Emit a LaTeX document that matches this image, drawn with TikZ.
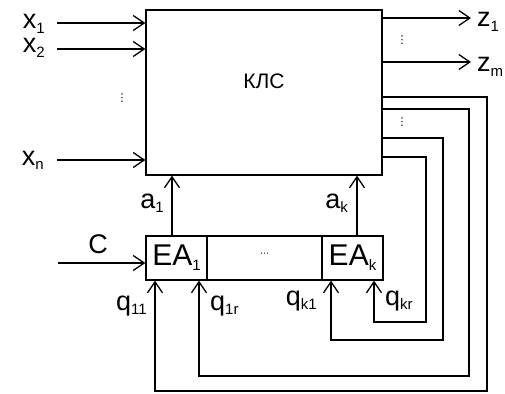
\documentclass[tikz,border=0pt]{standalone}
\usepackage{fontspec}
\setmainfont{Liberation Sans}
\newfontfamily\dotsfont{DejaVu Sans}
\usetikzlibrary{arrows.meta}

\newcommand{\lbsub}[1]{\raisebox{-0.16em}{\fontsize{15}{15}\selectfont #1}}

\begin{document}
\begin{tikzpicture}[x=1pt, y=-1pt,
  blk/.style={draw, rectangle, line width=1.3pt, inner sep=0pt},
  sig/.style={-{Straight Barb[length=11pt,width=15pt,line width=1.3pt]}, line width=1.3pt},
  lbl/.style={inner sep=0pt, text height=0.55em, text depth=0.15em, font=\fontsize{27}{29}\selectfont},
  dots/.style={inner sep=0pt, font=\dotsfont\fontsize{11}{12}\selectfont}
]
\useasboundingbox (0,0) rectangle (505,393);

% combinational block
\node[blk, minimum width=236, minimum height=165] (kls) at (264,92.5) {};
\node[inner sep=0pt, font=\fontsize{21}{22}\selectfont] (klsname) at (264,81) {КЛС};

% memory elements
\node[blk, minimum width=61, minimum height=44, font=\fontsize{30}{32}\selectfont] (ea1) at (176.5,258) {EA\lbsub{1}};
\node[blk, minimum width=115, minimum height=44] (eadots) at (264.5,258) {\raisebox{0.55em}{\dotsfont\fontsize{9}{9}\selectfont ⋯}};
\node[blk, minimum width=61, minimum height=44, font=\fontsize{30}{32}\selectfont] (eak) at (352.5,258) {EA\lbsub{k}};

% inputs
\coordinate (x1in) at (57,23);
\coordinate (x2in) at (57,49);
\coordinate (xnin) at (57,160);
\draw[sig] (x1in) -- (x1in -| kls.west);
\draw[sig] (x2in) -- (x2in -| kls.west);
\draw[sig] (xnin) -- (xnin -| kls.west);
\node[lbl, anchor=base east] (x1lab) at (45,29) {x\lbsub{1}};
\node[lbl, anchor=base east] (x2lab) at (45,53) {x\lbsub{2}};
\node[lbl, anchor=base east] (xnlab) at (44,165) {x\lbsub{n}};
\node[dots] (xdots) at (122,98) {⋮};

% outputs
\coordinate (z1out) at (471,18);
\coordinate (zmout) at (471,62);
\draw[sig] (z1out -| kls.east) -- (z1out);
\draw[sig] (zmout -| kls.east) -- (zmout);
\node[lbl, anchor=base west] (z1lab) at (477,27) {z\lbsub{1}};
\node[lbl, anchor=base west] (zmlab) at (477,72) {z\lbsub{m}};
\node[dots] (zdots) at (402,40) {⋮};
\node[dots] (fbdots) at (402,122) {⋮};

% clock
\coordinate (cin) at (58,263);
\draw[sig] (cin) -- (cin -| ea1.west);
\node[lbl, anchor=base] (clab) at (98,253) {C};

% state to block
\draw[sig] ([xshift=-4.5]ea1.north) -- ([xshift=-4.5]ea1.north |- kls.south);
\draw[sig] ([xshift=4.5]eak.north) -- ([xshift=4.5]eak.north |- kls.south);
\node[lbl, anchor=base east] (a1lab) at (164,208) {a\lbsub{1}};
\node[lbl, anchor=base east] (aklab) at (348,208) {a\lbsub{k}};

% feedback
\draw[sig] (kls.east |- 0,97) -| (487,391) -| ([xshift=-21.5]ea1.south);
\draw[sig] (kls.east |- 0,109) -| (469,376) -| ([xshift=22.5]ea1.south);
\draw[sig] (kls.east |- 0,138) -| (443,340) -| ([xshift=-21.5]eak.south);
\draw[sig] (kls.east |- 0,157) -| (426,322) -| ([xshift=21.5]eak.south);
\node[lbl, anchor=base east] (q11lab) at (147,310) {q\lbsub{11}};
\node[lbl, anchor=base west] (q1rlab) at (210,310) {q\lbsub{1r}};
\node[lbl, anchor=base east] (qk1lab) at (317,305) {q\lbsub{k1}};
\node[lbl, anchor=base west] (qkrlab) at (385,305) {q\lbsub{kr}};
\end{tikzpicture}
\end{document}
